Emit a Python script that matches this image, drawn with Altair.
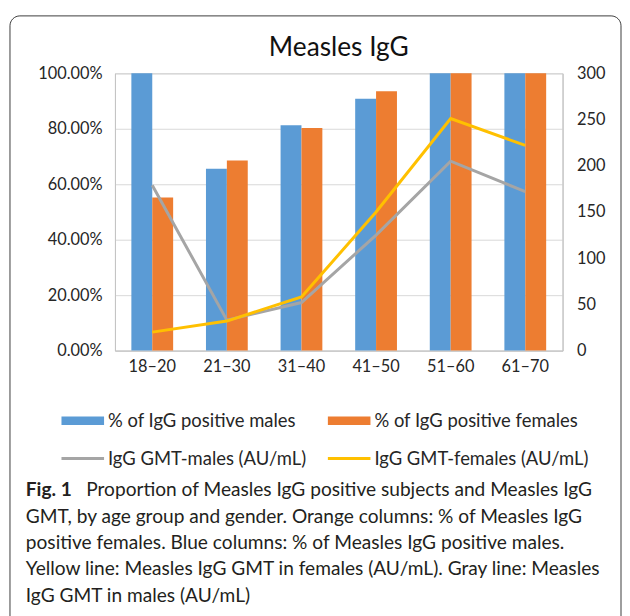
import altair as alt
import pandas as pd

# ---------------- data ----------------
age_groups = ["18–20", "21–30", "31–40", "41–50", "51–60", "61–70"]
pct_males = [1.0, 0.656, 0.813, 0.908, 1.0, 1.0]
pct_females = [0.552, 0.686, 0.803, 0.935, 1.0, 1.0]
gmt_males = [179, 33, 52, 125, 205, 172]
gmt_females = [20, 32, 58, 150, 251, 222]

bar_series = ["% of IgG positive males", "% of IgG positive females"]
bar_colors = ["#5b9bd5", "#ed7d31"]
line_series = ["IgG GMT-males (AU/mL)", "IgG GMT-females (AU/mL)"]
line_colors = ["#a5a5a5", "#ffc000"]

left_ticks = [0, 0.2, 0.4, 0.6, 0.8, 1.0]
right_ticks = [0, 50, 100, 150, 200, 250, 300]

title_text = "Measles IgG"
caption_bold = "Fig. 1"
caption_first = "Proportion of Measles IgG positive subjects and Measles IgG"
caption_rest = [
    "GMT, by age group and gender. Orange columns: % of Measles IgG",
    "positive females. Blue columns: % of Measles IgG positive males.",
    "Yellow line: Measles IgG GMT in females (AU/mL). Gray line: Measles",
    "IgG GMT in males (AU/mL)",
]

# ---------------- tables ----------------
bars_df = pd.DataFrame(
    [{"age": a, "series": bar_series[0], "value": v} for a, v in zip(age_groups, pct_males)]
    + [{"age": a, "series": bar_series[1], "value": v} for a, v in zip(age_groups, pct_females)]
)
lines_df = pd.DataFrame(
    [{"age": a, "series": line_series[0], "gmt": v} for a, v in zip(age_groups, gmt_males)]
    + [{"age": a, "series": line_series[1], "gmt": v} for a, v in zip(age_groups, gmt_females)]
)

FONT = "Lato"
CAP_FONT = "Lato"
TXT = "#262626"
CAP_COL = "#231f20"
W, H = 452, 280

x_enc = alt.X(
    "age:N", sort=age_groups, title="",
    scale=alt.Scale(paddingInner=0.44, paddingOuter=0.22),
    axis=alt.Axis(labelAngle=0, ticks=False, labelPadding=8, labelFontSize=16.5,
                  labelFont=FONT, labelColor=TXT, domainColor="#c4c4c4", grid=False),
)

bars = alt.Chart(bars_df).mark_bar().encode(
    x=x_enc,
    xOffset=alt.XOffset("series:N", sort=bar_series, scale=alt.Scale(paddingInner=0, paddingOuter=0)),
    y=alt.Y("value:Q", title="", scale=alt.Scale(domain=[0, 1], nice=False),
            axis=alt.Axis(format=".2%", values=left_ticks, ticks=False, labelPadding=13,
                          labelFontSize=16.5, labelFont=FONT, labelColor=TXT,
                          domainColor="#c4c4c4", gridColor="#d9d9d9", grid=True)),
    color=alt.Color("series:N", scale=alt.Scale(domain=bar_series, range=bar_colors), legend=None),
)

lines = alt.Chart(lines_df).mark_line(strokeWidth=3).encode(
    x=alt.X("age:N", sort=age_groups),
    y=alt.Y("gmt:Q", title="", scale=alt.Scale(domain=[0, 300], nice=False),
            axis=alt.Axis(orient="right", values=right_ticks, ticks=False, labelPadding=14,
                          labelFontSize=16.5, labelFont=FONT, labelColor=TXT,
                          domainColor="#c4c4c4", grid=False)),
    color=alt.Color("series:N", scale=alt.Scale(domain=line_series, range=line_colors), legend=None),
    order=alt.Order("series:N", sort="descending"),
)

one = pd.DataFrame({"k": [0]})

border = alt.Chart(one).mark_rect(fillOpacity=0, stroke="#3c3c3c", strokeWidth=1, cornerRadius=10).encode(
    x=alt.value(-106), x2=alt.value(511), y=alt.value(-58), y2=alt.value(700)
)

title = alt.Chart(pd.DataFrame({"t": [title_text]})).mark_text(
    font=FONT, fontSize=26.5, color="#111", align="center", baseline="middle"
).encode(text="t:N", x=alt.value(W / 2), y=alt.value(-26))

# legend (manual, 2 x 2)
legend_layers = []
leg_x = [-54, 215]
leg_y = [351, 389]
for i, (name, col) in enumerate(zip(bar_series, bar_colors)):
    legend_layers.append(alt.Chart(one).mark_rect(color=col).encode(
        x=alt.value(leg_x[i]), x2=alt.value(leg_x[i] + 43),
        y=alt.value(leg_y[0] - 4.5), y2=alt.value(leg_y[0] + 4)))
    legend_layers.append(alt.Chart(pd.DataFrame({"t": [name]})).mark_text(
        font=FONT, fontSize=18.6, color=TXT, align="left", baseline="middle").encode(
        text="t:N", x=alt.value(leg_x[i] + 47), y=alt.value(leg_y[0])))
for i, (name, col) in enumerate(zip(line_series, line_colors)):
    legend_layers.append(alt.Chart(one).mark_rule(color=col, strokeWidth=3).encode(
        x=alt.value(leg_x[i]), x2=alt.value(leg_x[i] + 43), y=alt.value(leg_y[1])))
    legend_layers.append(alt.Chart(pd.DataFrame({"t": [name]})).mark_text(
        font=FONT, fontSize=18.6, color=TXT, align="left", baseline="middle").encode(
        text="t:N", x=alt.value(leg_x[i] + 47), y=alt.value(leg_y[1])))

cap_y0 = 421
cap_lh = 26.6
CAP_FS = 19.3
cap1 = alt.Chart(pd.DataFrame({"t": [caption_bold]})).mark_text(
    font=CAP_FONT, fontSize=CAP_FS, fontWeight="bold", color=CAP_COL, align="left", baseline="middle"
).encode(text="t:N", x=alt.value(-90), y=alt.value(cap_y0))
cap2 = alt.Chart(pd.DataFrame({"t": [caption_first]})).mark_text(
    font=CAP_FONT, fontSize=CAP_FS, color=CAP_COL, align="left", baseline="middle"
).encode(text="t:N", x=alt.value(-29), y=alt.value(cap_y0))
cap3 = alt.Chart(pd.DataFrame({"t": ["\n".join(caption_rest)]})).mark_text(
    font=CAP_FONT, fontSize=CAP_FS, color=CAP_COL, align="left", baseline="middle",
    lineBreak="\n", lineHeight=cap_lh
).encode(text="t:N", x=alt.value(-90), y=alt.value(cap_y0 + cap_lh))

chart = alt.layer(
    bars, lines, border, title, *legend_layers, cap1, cap2, cap3
).resolve_scale(
    y="independent", color="independent"
).properties(
    width=W, height=H,
    autosize=alt.AutoSizeParams(type="none"),
    padding={"left": 108, "top": 63, "right": 60, "bottom": 265},
    background="white",
).configure_view(stroke="#c4c4c4")

chart.save("out.html", embed_options={"renderer": "svg", "actions": False})
